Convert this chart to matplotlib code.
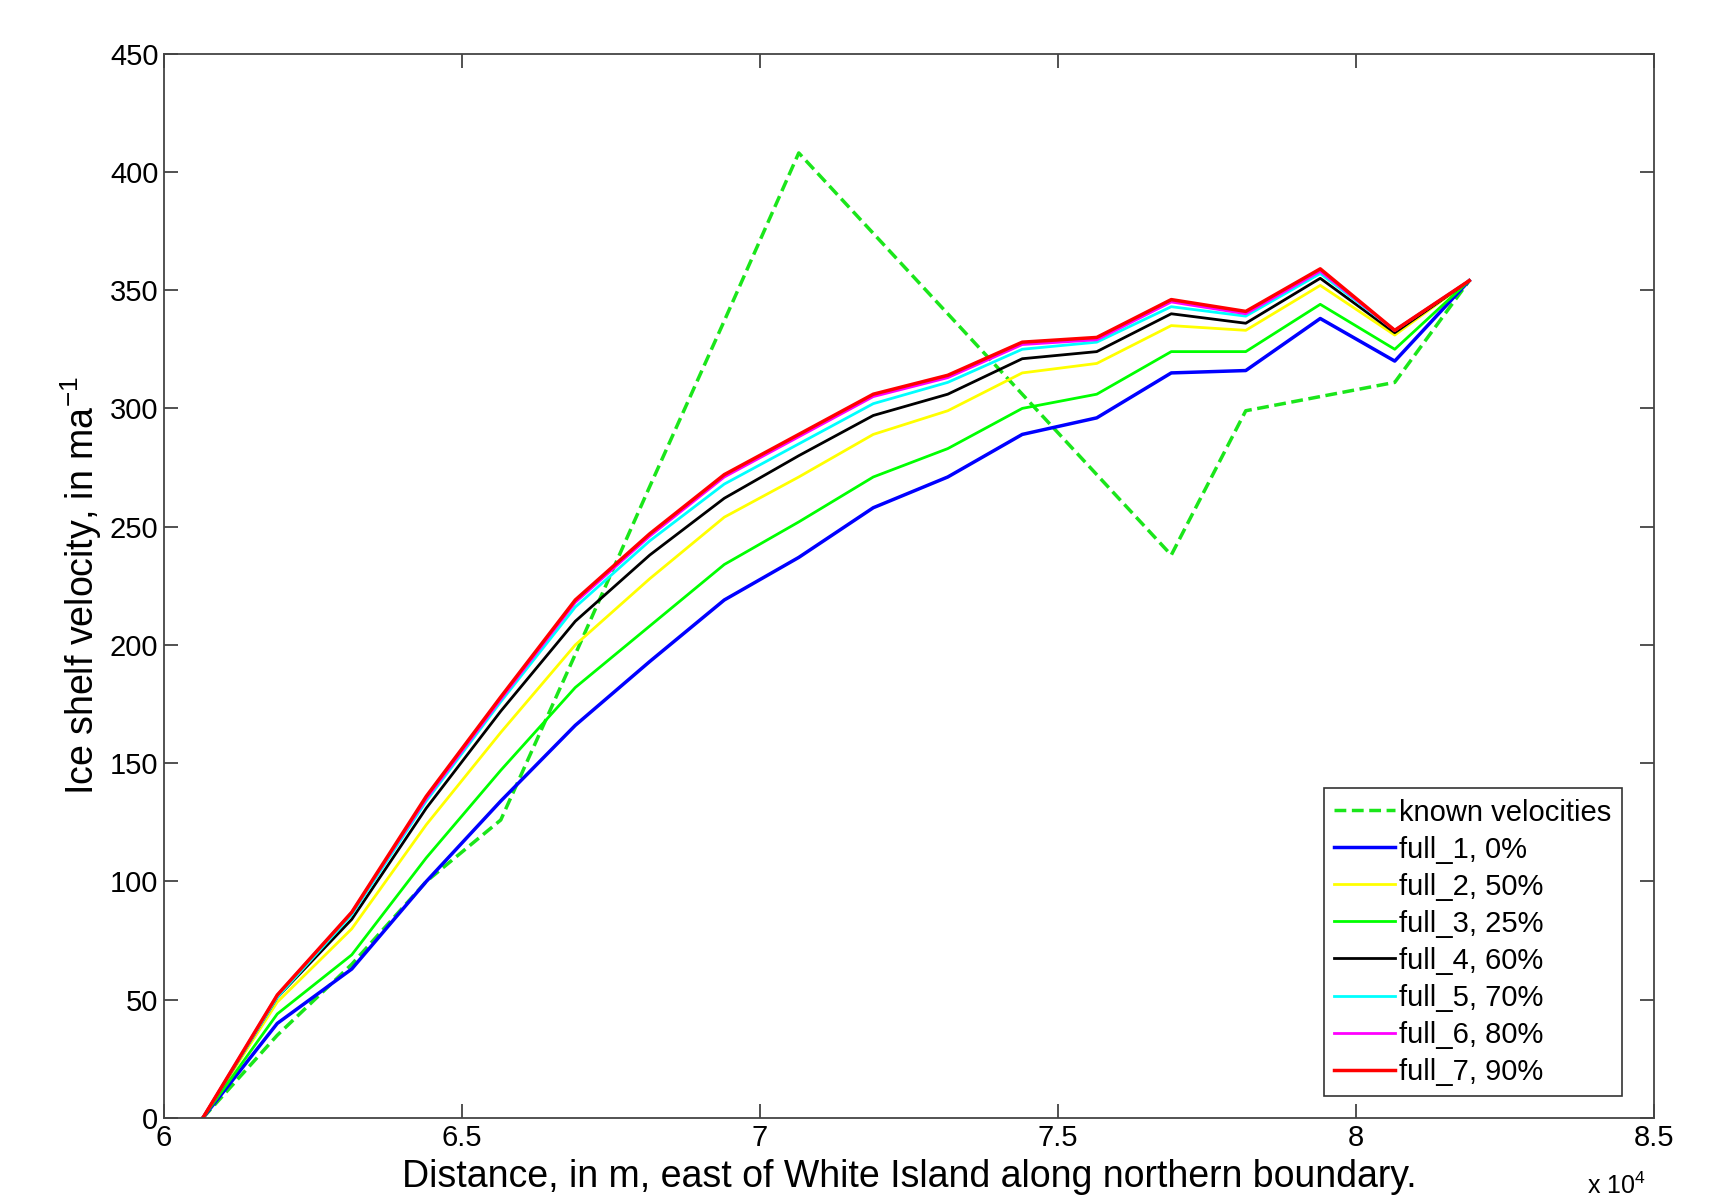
import numpy as np
import matplotlib
matplotlib.use("Agg")
from matplotlib import pyplot as plt

plt.rcParams['font.family'] = ['Liberation Sans', 'DejaVu Sans']
plt.rcParams['mathtext.default'] = 'regular'

# distance east of White Island (m), 18 sample points
dist = [60650, 61900, 63150, 64400, 65650, 66900, 68150, 69400, 70650,
        71900, 73150, 74400, 75650, 76900, 78150, 79400, 80650, 81900]

known = [0, 35, 65, 100, 126, 196, 267, 337, 408,
         374, 340, 306, 272, 238, 299, 305, 311, 354]

full_1 = [0, 40, 63, 100, 134, 166, 193, 219, 237,
          258, 271, 289, 296, 315, 316, 338, 320, 354]
full_2 = [0, 49, 80, 124, 163, 200, 228, 254, 271,
          289, 299, 315, 319, 335, 333, 352, 331, 354]
full_3 = [0, 44, 69, 110, 147, 182, 208, 234, 252,
          271, 283, 300, 306, 324, 324, 344, 325, 354]
full_4 = [0, 51, 84, 131, 172, 210, 238, 262, 280,
          297, 306, 321, 324, 340, 336, 355, 332, 354]
full_5 = [0, 51, 86, 134, 176, 216, 244, 268, 285,
          302, 311, 325, 328, 343, 339, 357, 333, 354]
full_6 = [0, 52, 87, 135, 177, 218, 246, 271, 288,
          305, 313, 327, 329, 345, 340, 358, 333, 354]
full_7 = [0, 52, 87, 136, 178, 219, 247, 272, 289,
          306, 314, 328, 330, 346, 341, 359, 333, 354]

runs = [("full_1, 0%", full_1, (0, 0, 1), 2.5),
        ("full_2, 50%", full_2, (1, 1, 0), 2.0),
        ("full_3, 25%", full_3, (0, 1, 0), 2.0),
        ("full_4, 60%", full_4, (0, 0, 0), 2.0),
        ("full_5, 70%", full_5, (0, 1, 1), 2.0),
        ("full_6, 80%", full_6, (1, 0, 1), 2.0),
        ("full_7, 90%", full_7, (1, 0, 0), 2.5)]

fig = plt.figure(figsize=(17.14, 11.96), dpi=100)
ax = fig.add_axes([0.0957, 0.0652, 0.8693, 0.890])

ax.plot(dist, known, color=(0.1, 0.9, 0.1), lw=2.5, dashes=(3.4, 1.6),
        label="known velocities")
for name, vals, col, lw in runs:
    ax.plot(dist, vals, color=col, lw=lw, label=name)

ax.set_xlim(60000, 85000)
ax.set_ylim(0, 450)
ax.set_xticks(np.arange(60000, 85001, 5000))
ax.set_xticklabels(["6", "6.5", "7", "7.5", "8", "8.5"])
ax.set_yticks(np.arange(0, 451, 50))
ax.tick_params(direction='in', length=10, width=1.2, top=True, right=True,
               labelsize=21, colors='#333333', labelcolor='black', pad=4)
for s in ax.spines.values():
    s.set_color('#444444')
    s.set_linewidth(1.3)

ax.set_xlabel("Distance, in m, east of White Island along northern boundary.",
              fontsize=27, labelpad=5)
ax.set_ylabel("Ice shelf velocity, in ma$^{-1}$", fontsize=27, labelpad=4)
fig.text(0.926, 0.002, "x 10$^{4}$", fontsize=18, ha='left', va='baseline')

leg = ax.legend(loc='lower right', bbox_to_anchor=(0.9463, 0.0836),
                bbox_transform=fig.transFigure, fontsize=21,
                fancybox=False, framealpha=1, edgecolor='#333333',
                handlelength=2.1, handletextpad=0.15, labelspacing=0.31,
                borderpad=0.35, borderaxespad=0)
leg.get_frame().set_linewidth(1.2)

fig.savefig("out.png", dpi=100)
